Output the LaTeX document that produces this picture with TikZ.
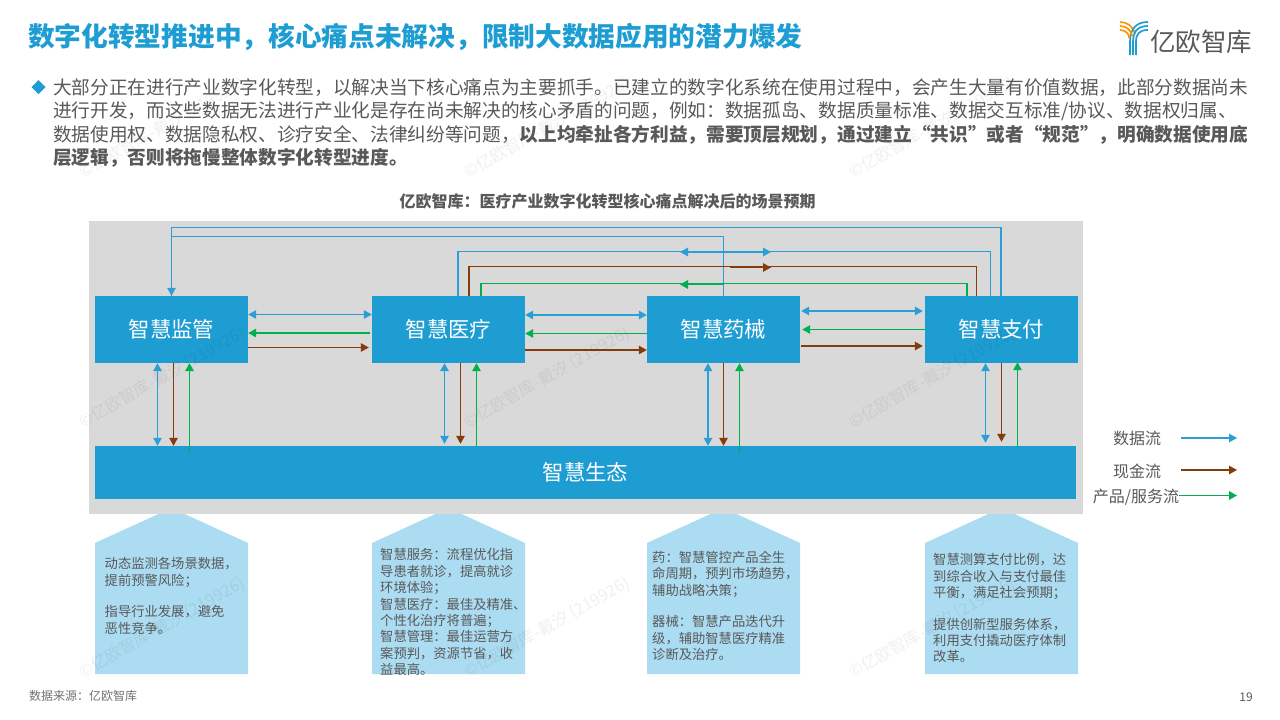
\documentclass[tikz,border=0pt]{standalone}
\usepackage{fontspec}
\setmainfont{Noto Sans CJK SC}
\usetikzlibrary{arrows.meta,calc}
\definecolor{mainblue}{HTML}{1E9DD3}
\definecolor{flowblue}{HTML}{2A9FD6}
\definecolor{flowbrown}{HTML}{843C0C}
\definecolor{flowgreen}{HTML}{00B050}
\definecolor{lightblue}{HTML}{ABDCF1}
\definecolor{panelgray}{HTML}{D9D9D9}
\definecolor{txtgray}{HTML}{595959}
\tikzset{
  x=1pt,y=-1pt,
  tip/.tip={Triangle[length=8pt,width=8.5pt]},
  flow/.style={line width=1.35pt},
  bf/.style={flow,draw=flowblue,color=flowblue},
  cf/.style={flow,draw=flowbrown,color=flowbrown},
  gf/.style={flow,draw=flowgreen,color=flowgreen},
  box/.style={fill=mainblue,text=white,inner sep=0pt,minimum width=153pt,minimum height=67pt,font=\fontsize{21.4}{24}\selectfont},
  pent/.style={fill=lightblue},
  note/.style={anchor=north west,inner sep=0pt,align=left,text=txtgray,font=\fontsize{13.3}{16.4}\selectfont},
  legend/.style={inner sep=0pt,text=txtgray,font=\fontsize{16}{19}\selectfont},
  wm/.style={rotate=29.5,text=black,opacity=0.06,inner sep=0pt,font=\fontsize{16.4}{19}\selectfont},
  logoo/.style={draw=orange!85!yellow,line width=1.7pt},
  logob/.style={draw=mainblue,line width=1.7pt}
}
\begin{document}
\begin{tikzpicture}
\useasboundingbox (0,0) rectangle (1280,720);
\fill[white] (0,0) rectangle (1280,720);

% title
\node[anchor=west,inner sep=0pt,text=mainblue,font=\fontsize{26.7}{30}\selectfont\bfseries] (title) at (28,37) {数字化转型推进中，核心痛点未解决，限制大数据应用的潜力爆发};

% logo
\foreach \i in {0,1,2}{
  \draw[logoo] (1120,{22+4*\i}) .. controls ({1127-\i},{22+4*\i}) and ({1133-1.5*\i},{26+4*\i}) .. ({1135-3*\i},{34+2*\i});
  \draw[logob] (1148,{22+4*\i}) .. controls ({1137+\i},{22+4*\i}) and ({1130+\i*3},{28+3*\i}) .. ({1130+3*\i},42) -- ({1130+3*\i},55);
}
\node[anchor=west,inner sep=0pt,text=txtgray,font=\fontsize{25.5}{28}\selectfont] (logotext) at (1150,42) {亿欧智库};

% bullet + paragraph
\fill[mainblue] (38.5,80) -- (45.5,87) -- (38.5,94) -- (31.5,87) -- cycle;
\node[anchor=north west,inner sep=0pt,align=left,text=txtgray,font=\fontsize{18.67}{23.5}\selectfont] (para) at (53,78) {大部分正在进行产业数字化转型，以解决当下核心痛点为主要抓手。已建立的数字化系统在使用过程中，会产生大量有价值数据，此部分数据尚未\\
进行开发，而这些数据无法进行产业化是存在尚未解决的核心矛盾的问题，例如：数据孤岛、数据质量标准、数据交互标准/协议、数据权归属、\\
数据使用权、数据隐私权、诊疗安全、法律纠纷等问题，\textbf{以上均牵扯各方利益，需要顶层规划，通过建立“共识”或者“规范”，明确数据使用底}\\
\textbf{层逻辑，否则将拖慢整体数字化转型进度。}};

% chart title
\node[inner sep=0pt,text=txtgray,font=\fontsize{16}{18}\selectfont\bfseries] (charttitle) at (607.5,201) {亿欧智库：医疗产业数字化转型核心痛点解决后的场景预期};

% pentagons (apexes are hidden by the grey panel)
\fill[pent] (95,543) -- (171.5,508) -- (248,543) -- (248,674) -- (95,674) -- cycle;
\fill[pent] (372,543) -- (448.5,508) -- (525,543) -- (525,674) -- (372,674) -- cycle;
\fill[pent] (647,543) -- (723.5,508) -- (800,543) -- (800,674) -- (647,674) -- cycle;
\fill[pent] (925,543) -- (1001.5,508) -- (1078,543) -- (1078,674) -- (925,674) -- cycle;

% panel
\fill[panelgray] (89,221) rectangle (1083,514);

% boxes
\node[box] (jg) at (171.5,329.5) {智慧监管};
\node[box] (yl) at (448.5,329.5) {智慧医疗};
\node[box] (yx) at (723.5,329.5) {智慧药械};
\node[box] (zf) at (1001.5,329.5) {智慧支付};
\node[box,minimum width=981pt,minimum height=53pt] (st) at (585.5,472.5) {智慧生态};

% top routed lines
\draw[bf,-{tip}] ([xshift=-0.5pt]zf.north) -- ++(0,-68) -| (jg.north);
\draw[bf] (yx.north) -- ++(0,-59.5) -| (jg.north);
\draw[bf] ([xshift=9.5pt]yl.north) -- ++(0,-44) -| ([xshift=-11pt]zf.north);
\draw[cf] ([xshift=20.5pt]yl.north) -- ++(0,-29) -| ([xshift=-25pt]zf.north);
\draw[gf] ([xshift=32.5pt]yl.north) -- ++(0,-12) -| ([xshift=-34.5pt]zf.north);
\coordinate (ba) at (680,252); \coordinate (bb) at (771,252);
\coordinate (ca) at (730,267.5); \coordinate (cb) at (771,267.5);
\coordinate (ga) at (724,284.5); \coordinate (gb) at (680,284.5);
\draw[bf,{tip}-{tip}] (ba) -- (bb);
\draw[cf,-{tip}] (ca) -- (cb);
\draw[gf,-{tip}] (ga) -- (gb);

% horizontals
\draw[bf,{tip}-{tip}] ([yshift=15pt]jg.east) -- ([yshift=15pt]yl.west);
\draw[gf,-{tip}] ([xshift=-2pt,yshift=-3.5pt]yl.west) -- ([yshift=-3.5pt]jg.east);
\draw[cf,-{tip}] ([yshift=-18pt]jg.east) -- ([xshift=-3pt,yshift=-18pt]yl.west);

\draw[bf,{tip}-{tip}] ([yshift=14.5pt]yl.east) -- ([yshift=14.5pt]yx.west);
\draw[gf,-{tip}] ([yshift=-4pt]yx.west) -- ([yshift=-4pt]yl.east);
\draw[cf,-{tip}] ([yshift=-20.5pt]yl.east) -- ([yshift=-20.5pt]yx.west);

\draw[bf,{tip}-{tip}] ([xshift=1pt,yshift=18.5pt]yx.east) -- ([xshift=-2pt,yshift=18.5pt]zf.west);
\draw[gf,-{tip}] ([yshift=0pt]zf.west) -- ([xshift=2pt,yshift=0pt]yx.east);
\draw[cf,-{tip}] ([xshift=1pt,yshift=-16.5pt]yx.east) -- ([xshift=-2pt,yshift=-16.5pt]zf.west);

% verticals
\coordinate (s1) at ([xshift=18pt,yshift=-7pt]st.north -| jg.south);
\draw[bf,{tip}-{tip}] ([xshift=-14pt]jg.south) -- ([xshift=-14pt]jg.south |- st.north);
\draw[cf,-{tip}] ([xshift=2pt]jg.south) -- ([xshift=2pt]jg.south |- st.north);
\draw[gf,-{tip}] (s1) -- ([xshift=18pt]jg.south);

\draw[bf,{tip}-{tip}] ([xshift=-4pt]yl.south) -- ([xshift=-4pt,yshift=2pt]yl.south |- st.north);
\draw[cf,-{tip}] ([xshift=12pt]yl.south) -- ([xshift=12pt,yshift=2pt]yl.south |- st.north);
\draw[gf,-{tip}] ([xshift=28pt]yl.south |- st.north) -- ([xshift=28pt]yl.south);

\draw[bf,{tip}-{tip}] ([xshift=-15.5pt]yx.south) -- ([xshift=-15.5pt]yx.south |- st.north);
\draw[cf,-{tip}] (yx.south) -- (yx.south |- st.north);
\draw[gf,-{tip}] ([xshift=16pt,yshift=-7pt]yx.south |- st.north) -- ([xshift=16pt]yx.south);

\draw[bf,{tip}-{tip}] ([xshift=-16pt]zf.south) -- ([xshift=-16pt,yshift=3pt]zf.south |- st.north);
\draw[cf,-{tip}] (zf.south) -- ([yshift=4pt]zf.south |- st.north);
\draw[gf,-{tip}] ([xshift=16pt,yshift=-3pt]zf.south |- st.north) -- ([xshift=16pt,yshift=1pt]zf.south);

% legend
\node[legend] (l1) at (1137,438) {数据流};
\node[legend] (l2) at (1137,471) {现金流};
\node[legend] (l3) at (1136,497) {产品/服务流};
\coordinate (l1e) at (1237,438);
\coordinate (l2e) at (1237,470);
\coordinate (l3e) at (1237,495.5);
\draw[bf,-{tip}] (1181,438) -- (l1e);
\draw[cf,-{tip}] (1181,470) -- (l2e);
\draw[gf,-{tip}] (l3.east |- l3e) -- (l3e);

% pentagon notes
\node[note] (n1) at (104.5,557.5) {动态监测各场景数据，\\提前预警风险；\\[15pt]指导行业发展，避免\\恶性竞争。};
\node[note] (n2) at (380,548.5) {智慧服务：流程优化指\\导患者就诊，提高就诊\\环境体验；\\智慧医疗：最佳及精准、\\个性化治疗将普遍；\\智慧管理：最佳运营方\\案预判，资源节省，收\\益最高。};
\node[note] (n3) at (652,551) {药：智慧管控产品全生\\命周期，预判市场趋势，\\辅助战略决策；\\[15pt]器械：智慧产品迭代升\\级，辅助智慧医疗精准\\诊断及治疗。};
\node[note] (n4) at (933,553.5) {智慧测算支付比例，达\\到综合收入与支付最佳\\平衡，满足社会预期；\\[15pt]提供创新型服务体系，\\利用支付撬动医疗体制\\改革。};

% footer
\node[anchor=west,inner sep=0pt,text=txtgray!85,font=\fontsize{12}{14}\selectfont] (src) at (29,696) {数据来源：亿欧智库};
\node[inner sep=0pt,text=txtgray,font=\fontsize{12}{14}\selectfont] (pg) at (1246,697) {19};

% watermarks
\foreach \x in {162,547,932}{\foreach \y in {128,378,628}{
  \node[wm] at (\x,\y) {©亿欧智库-戴汐 (219926)};
}}
\end{tikzpicture}
\end{document}
